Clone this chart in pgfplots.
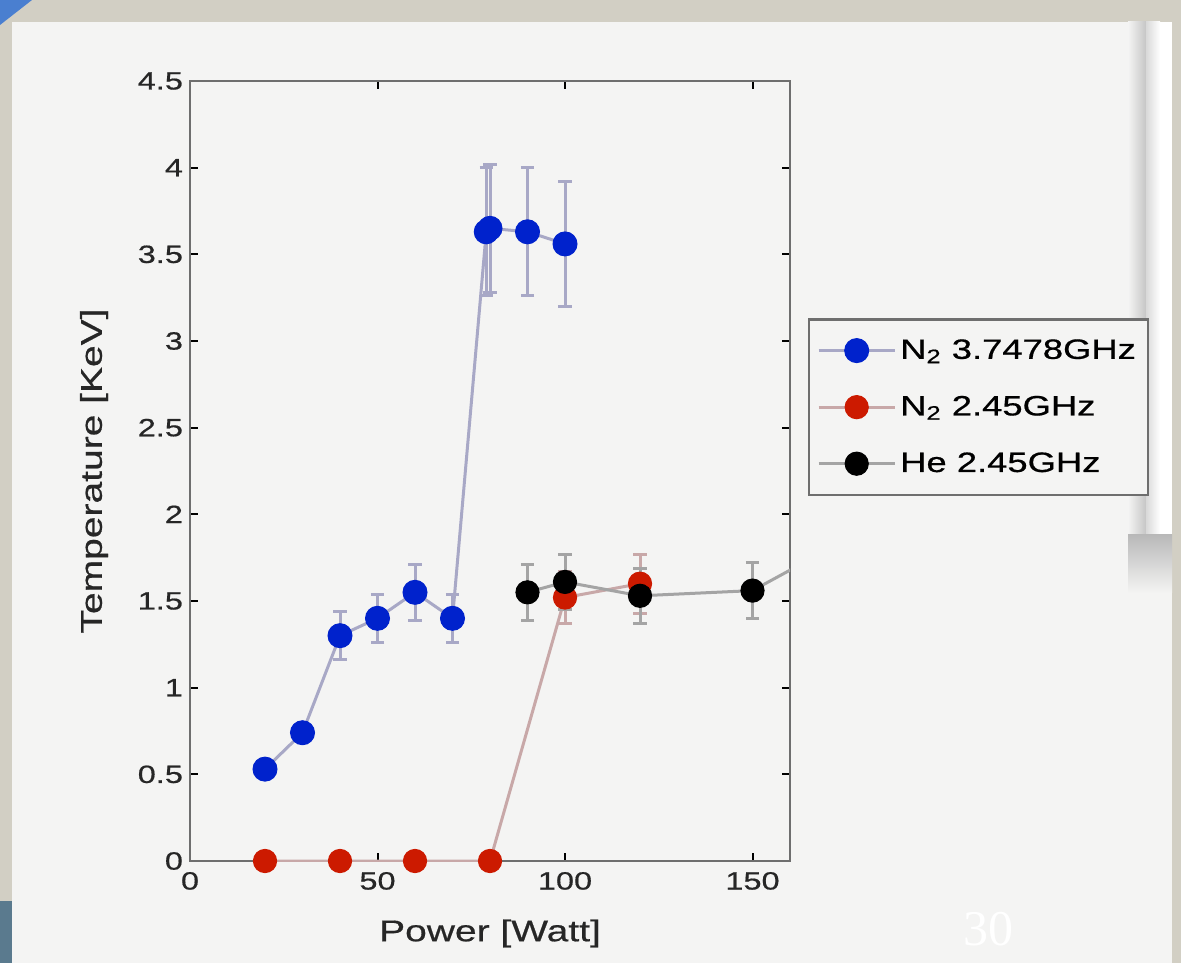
\documentclass[border=0pt]{standalone}
\usepackage{pgfplots}
\pgfplotsset{compat=1.18}
\usepackage{fontspec}
\setmainfont{Liberation Sans}[FakeStretch=1.3, FakeBold=0.6]
\newfontfamily\seriffont{Liberation Serif}
\definecolor{bg}{HTML}{F4F4F3}
\definecolor{texture}{HTML}{D2CFC4}
\definecolor{bluept}{HTML}{0022CC}
\definecolor{redpt}{HTML}{CC1A00}
\definecolor{blueline}{HTML}{A8A8C6}
\definecolor{redline}{HTML}{C8A8A8}
\definecolor{blackline}{HTML}{A4A4A4}
\definecolor{axisgray}{HTML}{6E6E6E}
\definecolor{slideblue}{HTML}{4A7FD0}
\definecolor{bluegray}{HTML}{5A7A8E}

\pgfplotstableread{
x y e
20 0.53 0
30 0.74 0
40 1.30 0.14
50 1.40 0.14
60 1.55 0.16
70 1.40 0.14
79 3.63 0.37
80 3.65 0.37
90 3.63 0.37
100 3.56 0.36
}\bluedata
\pgfplotstableread{
x y e
20 0 0
40 0 0
60 0 0
80 0 0
100 1.52 0.15
120 1.60 0.17
}\reddata
\pgfplotstableread{
x y e
90 1.55 0.16
100 1.61 0.16
120 1.53 0.16
150 1.56 0.16
200 2.15 0.16
}\blackdata

\begin{document}
\begin{tikzpicture}[x=0.5pt,y=0.5pt]
\useasboundingbox (0,0) rectangle (1181,963);
\fill[bg] (0,0) rectangle (1181,963);
\fill[texture] (0,941) rectangle (1181,963);
\fill[texture] (0,0) rectangle (12,963);
\fill[texture] (1172,0) rectangle (1181,963);
\fill[bluegray] (0,0) rectangle (12,62);
\fill[slideblue] (0,963) -- (32,963) -- (0,938) -- cycle;
\shade[left color=bg, right color=gray!45] (1128,428) rectangle (1146,941);
\shade[left color=gray!30, right color=white] (1146,428) rectangle (1160,941);
\fill[white] (1160,428) rectangle (1172,941);
\shade[top color=gray!55, bottom color=bg] (1128,370) rectangle (1172,428);
\node[text=white, font=\seriffont\fontsize{25}{27}\selectfont] at (988,34) {30};

\begin{axis}[
  at={(95pt,51pt)}, anchor=south west,
  scale only axis, width=300pt, height=390pt,
  xmin=0, xmax=160, ymin=0, ymax=4.5,
  xtick={0,50,100,150},
  ytick={0,0.5,1,1.5,2,2.5,3,3.5,4,4.5},
  yticklabels={0,0.5,1,1.5,2,2.5,3,3.5,4,4.5},
  tick align=inside,
  major tick length=4pt,
  axis line style={axisgray, line width=1.3pt},
  tick style={black, line width=1pt},
  /pgf/number format/assume math mode=true,
  ticklabel style={font=\fontsize{12.5}{14}\selectfont, text=black!85},
  xticklabel style={yshift=-2pt},
  xlabel={Power [Watt]},
  ylabel={Temperature [KeV]},
  label style={font=\fontsize{15}{17}\selectfont, text=black!85},
  xlabel style={yshift=-8pt},
  ylabel style={yshift=8pt},
  legend style={at={(1.03,0.696)}, anchor=north west, draw=axisgray, line width=1.2pt,
    fill=bg, font=\fontsize{14}{16}\selectfont, cells={anchor=west},
    inner xsep=4pt, inner ysep=8pt, row sep=13pt},
  legend image code/.code={\draw[#1, mark repeat=2, mark phase=2] plot coordinates {(0pt,0pt) (19pt,0pt) (38pt,0pt)};},
]
\addplot[blueline, line width=1.5pt, mark=*, mark size=6pt,
  mark options={fill=bluept, draw=bluept, line width=0.5pt},
  error bars/.cd, y dir=both, y explicit,
  error bar style={blueline, line width=1.5pt},
  error mark options={rotate=90, mark size=3.3pt, blueline, line width=1.5pt}]
  table[x=x, y=y, y error=e] {\bluedata};
\addlegendentry{N\textsubscript{2} 3.7478GHz}
\addplot[redline, line width=1.5pt, mark=*, mark size=5.8pt,
  mark options={fill=redpt, draw=redpt, line width=0.5pt},
  error bars/.cd, y dir=both, y explicit,
  error bar style={redline, line width=1.5pt},
  error mark options={rotate=90, mark size=3.3pt, redline, line width=1.5pt}]
  table[x=x, y=y, y error=e] {\reddata};
\addlegendentry{N\textsubscript{2} 2.45GHz}
\addplot[blackline, line width=1.5pt, mark=*, mark size=5.8pt,
  mark options={fill=black, draw=black, line width=0.5pt},
  error bars/.cd, y dir=both, y explicit,
  error bar style={blackline, line width=1.5pt},
  error mark options={rotate=90, mark size=3.3pt, blackline, line width=1.5pt}]
  table[x=x, y=y, y error=e] {\blackdata};
\addlegendentry{He 2.45GHz}
\end{axis}
\end{tikzpicture}
\end{document}
